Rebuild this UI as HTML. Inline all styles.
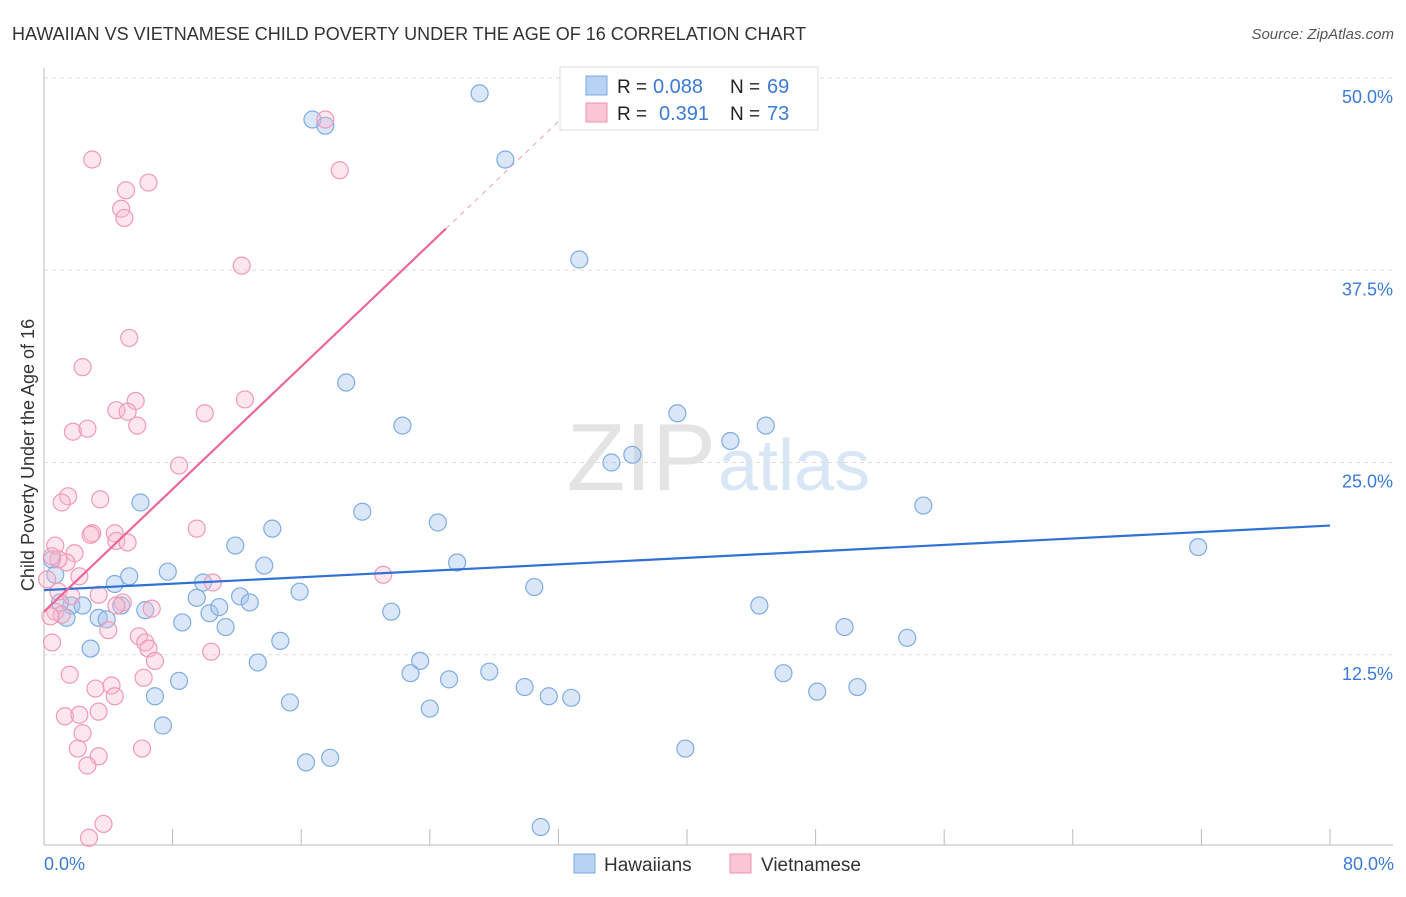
<!DOCTYPE html>
<html><head><meta charset="utf-8"><style>
body{margin:0;background:#fff;font-family:"Liberation Sans",sans-serif}
svg text{font-family:"Liberation Sans",sans-serif}
</style></head><body>
<svg id="c" width="1406" height="892">
<text x="12" y="40" font-size="18" fill="#333">HAWAIIAN VS VIETNAMESE CHILD POVERTY UNDER THE AGE OF 16 CORRELATION CHART</text>
<text x="1394" y="39" font-size="15" fill="#555" text-anchor="end" font-style="italic">Source: ZipAtlas.com</text>
<text x="716" y="490" font-size="96" fill="#e4e4e4" text-anchor="end" font-family="Liberation Serif">ZIP</text>
<text x="718" y="490" font-size="72" fill="#d8e6f6">atlas</text>
<g id="grid"></g><g id="marks"></g>
<text transform="translate(34,455) rotate(-90)" font-size="18" fill="#333" text-anchor="middle">Child Poverty Under the Age of 16</text>
<text x="44" y="870" font-size="18" fill="#3b7ad8">0.0%</text>
<text x="1394" y="870" font-size="18" fill="#3b7ad8" text-anchor="end">80.0%</text>
<rect x="560" y="67" width="258" height="63" fill="#fff" stroke="#ddd"/>
<rect x="586" y="76" width="21" height="19" fill="#b8d2f4" stroke="#7aa8e0"/>
<rect x="586" y="103" width="21" height="19" fill="#fac6d6" stroke="#f090b0"/>
<text x="617" y="93" font-size="19" fill="#222">R =</text>
<text x="653" y="93" font-size="20" fill="#3b7ad8">0.088</text>
<text x="730" y="93" font-size="19" fill="#222">N =</text>
<text x="767" y="93" font-size="20" fill="#3b7ad8">69</text>
<text x="617" y="120" font-size="19" fill="#222">R =</text>
<text x="659" y="120" font-size="20" fill="#3b7ad8">0.391</text>
<text x="730" y="120" font-size="19" fill="#222">N =</text>
<text x="767" y="120" font-size="20" fill="#3b7ad8">73</text>
<rect x="574" y="854" width="21" height="19" fill="#b8d2f4" stroke="#7aa8e0"/>
<text x="604" y="871" font-size="19" fill="#333">Hawaiians</text>
<rect x="730" y="854" width="21" height="19" fill="#fac6d6" stroke="#f090b0"/>
<text x="761" y="871" font-size="19" fill="#333">Vietnamese</text>
</svg>
<script>
const yTicks=[12.5,25,37.5,50];
const yTickLabels=["12.5%","25.0%","37.5%","50.0%"];
const xTicks=[0,8,16,24,32,40,48,56,64,72,80];
const hawX=[27.1,16.7,17.5,28.7,33.3,18.8,22.3,39.4,42.7,44.9,35.3,36.6,6.0,19.8,24.5,54.7,14.2,11.9,25.7,13.7,7.7,5.3,4.4,9.9,30.5,71.8,15.9,9.5,12.2,12.8,1.7,1.0,2.4,4.8,6.3,10.3,10.9,21.6,44.5,3.4,3.9,1.4,8.6,11.3,49.8,53.7,14.7,2.9,13.3,23.4,22.8,27.7,25.2,46.0,8.4,6.9,29.9,31.4,32.8,48.1,50.6,15.3,24.0,7.4,39.9,16.3,17.8,30.9,0.5,0.7];
const hawY=[49.0,47.3,46.9,44.7,38.2,30.2,27.4,28.2,26.4,27.4,25.0,25.5,22.4,21.8,21.1,22.2,20.7,19.6,18.5,18.3,17.9,17.6,17.1,17.2,16.9,19.5,16.6,16.2,16.3,15.9,15.7,15.9,15.7,15.7,15.4,15.2,15.6,15.3,15.7,14.9,14.8,14.9,14.6,14.3,14.3,13.6,13.4,12.9,12.0,12.1,11.3,11.4,10.9,11.3,10.8,9.8,10.4,9.8,9.7,10.1,10.4,9.4,9.0,7.9,6.4,5.5,5.8,1.3,18.7,17.7];
const vieX=[3.0,17.5,18.4,5.1,6.5,4.8,5.0,12.3,5.3,2.4,5.7,4.5,5.2,10.0,12.5,1.8,2.7,5.8,8.4,1.5,1.1,3.5,9.5,3.0,2.9,4.4,4.5,5.2,0.7,1.9,1.4,0.9,2.2,10.5,21.1,3.4,0.9,1.7,4.9,6.7,4.5,0.7,1.1,0.4,4.0,5.9,6.3,6.5,6.9,0.5,10.4,1.6,6.2,4.2,3.2,4.4,3.4,1.3,2.2,2.4,2.1,3.4,6.1,2.7,3.7,2.8,0.5,0.2];
const vieY=[44.7,47.3,44.0,42.7,43.2,41.5,40.9,37.8,33.1,31.2,29.0,28.4,28.3,28.2,29.1,27.0,27.2,27.4,24.8,22.8,22.4,22.6,20.7,20.4,20.3,20.4,19.9,19.8,19.6,19.1,18.5,18.7,17.6,17.2,17.7,16.4,16.6,16.3,15.9,15.5,15.7,15.3,15.1,15.0,14.1,13.7,13.3,12.9,12.1,13.3,12.7,11.2,11.0,10.5,10.3,9.8,8.8,8.5,8.6,7.4,6.4,5.9,6.4,5.3,1.5,0.6,18.9,17.4];
const hawTrend=[16.7,20.9];
const vieTrend=[15.3,0.996];
const NS="http://www.w3.org/2000/svg";
const sx=v=>44+v*16.075, sy=v=>847-v*15.38;
function mk(t,a,p){const e=document.createElementNS(NS,t);for(const k in a)e.setAttribute(k,a[k]);p.appendChild(e);return e;}
const gGrid=document.getElementById('grid'), gMarks=document.getElementById('marks');
yTicks.forEach((t,i)=>{
 const l=mk('line',{x1:44,x2:1393,y1:sy(t),y2:sy(t),stroke:'#ddd','stroke-dasharray':'4,4'},gGrid);
 
 
 const tx=mk('text',{x:1393,y:sy(t)+25,'font-size':18,fill:'#3b7ad8','text-anchor':'end'},gGrid);
 tx.textContent=yTickLabels[i];
 
 
});
const topLine=mk('line',{x1:44,x2:1393,y1:78,y2:78,stroke:'#ddd','stroke-dasharray':'4,4'},gGrid);


const yAxisLine=mk('line',{x1:44,x2:44,y1:68,y2:845,stroke:'#bbb'},gGrid);


const xAxisLine=mk('line',{x1:44,x2:1393,y1:845,y2:845,stroke:'#bbb'},gGrid);


xTicks.forEach(t=>{
 const l=mk('line',{x1:sx(t),x2:sx(t),y1:829,y2:845,stroke:'#bbb'},gGrid);
 
 
});
hawX.forEach((x,i)=>{
 const c=mk('circle',{cx:sx(x),cy:sy(hawY[i]),r:8.5,fill:'rgba(160,196,240,0.4)',stroke:'#80ace2','stroke-width':1.2},gMarks);
 
 
});
vieX.forEach((x,i)=>{
 const c=mk('circle',{cx:sx(x),cy:sy(vieY[i]),r:8.5,fill:'rgba(248,182,202,0.35)',stroke:'#f09ab8','stroke-width':1.2},gMarks);
 
 
});
const bl=mk('line',{x1:sx(0),y1:sy(hawTrend[0]),x2:sx(80),y2:sy(hawTrend[1]),stroke:'#2f72d4','stroke-width':2.2},gMarks);


const xe=(50-vieTrend[0])/vieTrend[1];
const pl=mk('line',{x1:sx(0),y1:sy(vieTrend[0]),x2:sx(25),y2:sy(vieTrend[0]+25*vieTrend[1]),stroke:'#e8689a','stroke-width':2.2},gMarks);


const pd=mk('line',{x1:sx(25),y1:sy(vieTrend[0]+25*vieTrend[1]),x2:sx(xe),y2:sy(50),stroke:'#e8a0b8','stroke-width':1,'stroke-dasharray':'5,5'},gMarks);


</script>
</body></html>
